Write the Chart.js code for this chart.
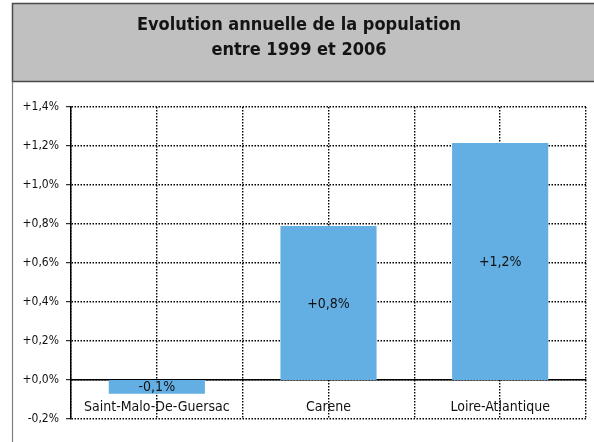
<!DOCTYPE html>
<html>
<head>
<meta charset="utf-8">
<script src="https://cdn.jsdelivr.net/npm/chart.js@4.4.1/dist/chart.umd.min.js"></script>
<style>
  html, body { margin: 0; padding: 0; background: #ffffff; }
  #wrap { width: 594px; height: 442px; position: relative; }
</style>
</head>
<body>
<div id="wrap"><canvas id="c" width="594" height="442"></canvas></div>
<script>
const categories = ['Saint-Malo-De-Guersac', 'Carene', 'Loire-Atlantique'];
const values = [-0.07, 0.79, 1.215];
const titleLines = ['Evolution annuelle de la population', 'entre 1999 et 2006'];
const yMin = -0.2;
const yMax = 1.4;
const yStep = 0.2;

const FONT = "'DejaVu Sans Condensed', 'Liberation Sans Narrow', sans-serif";
const DOT = [1.5, 1.5];
const BAR_COLOR = '#63AFE3';
const TITLE_GAP = 26;

function fmt(v) {
  const r = Math.round(v * 10) / 10;
  return (r >= 0 ? '+' : '-') + Math.abs(r).toFixed(1).replace('.', ',') + '%';
}

const framePlugin = {
  id: 'frame',
  beforeDraw(chart) {
    const ctx = chart.ctx;
    const tb = chart.titleBlock;
    ctx.save();
    ctx.fillStyle = '#ffffff';
    ctx.fillRect(0, 0, chart.width, chart.height);
    const left = tb.left + 0.5;
    const top = tb.top + 0.5;
    const bottom = tb.bottom - TITLE_GAP + 0.5;
    ctx.fillStyle = '#c0c0c0';
    ctx.fillRect(left, top, chart.width + 10 - left, bottom - top);
    ctx.strokeStyle = '#4a4a4a';
    ctx.lineWidth = 1.5;
    ctx.strokeRect(left, top, chart.width + 10 - left, bottom - top);
    ctx.strokeStyle = '#7f7f7f';
    ctx.lineWidth = 1.2;
    ctx.beginPath();
    ctx.moveTo(left, bottom);
    ctx.lineTo(left, chart.height);
    ctx.stroke();
    ctx.restore();
  }
};

const barLabelPlugin = {
  id: 'barLabels',
  afterDatasetsDraw(chart) {
    const ctx = chart.ctx;
    const meta = chart.getDatasetMeta(0);
    ctx.save();
    ctx.fillStyle = '#111111';
    ctx.font = '14px ' + FONT;
    ctx.textAlign = 'center';
    ctx.textBaseline = 'middle';
    meta.data.forEach((bar, i) => {
      const p = bar.getProps(['x', 'y', 'base'], true);
      ctx.fillText(fmt(values[i]), p.x, (p.y + p.base) / 2 + 1);
    });
    ctx.restore();
  }
};

new Chart(document.getElementById('c'), {
  type: 'bar',
  data: {
    labels: categories,
    datasets: [{
      data: values,
      backgroundColor: BAR_COLOR,
      borderWidth: 0,
      barPercentage: 0.56,
      categoryPercentage: 1.0
    }]
  },
  plugins: [framePlugin, barLabelPlugin],
  options: {
    responsive: false,
    animation: false,
    devicePixelRatio: 1,
    layout: { padding: { left: 12, right: 8, top: 3, bottom: 23 } },
    plugins: {
      legend: { display: false },
      tooltip: { enabled: false },
      title: {
        display: true,
        text: titleLines,
        color: '#141414',
        font: { family: FONT, size: 18, weight: 'bold', lineHeight: '25px' },
        padding: { top: 10, bottom: 44 }
      }
    },
    scales: {
      x: {
        type: 'category',
        position: { y: 0 },
        offset: true,
        grid: {
          offset: true,
          color: '#000000',
          lineWidth: 1.4,
          drawTicks: false
        },
        border: { display: true, color: '#000000', width: 1.5, dash: DOT },
        ticks: {
          color: '#111111',
          font: { family: FONT, size: 14 },
          padding: 19,
          maxRotation: 0,
          autoSkip: false
        }
      },
      x2: {
        type: 'category',
        labels: categories,
        position: { y: 0 },
        offset: true,
        grid: {
          offset: false,
          color: '#000000',
          lineWidth: 1.4,
          drawTicks: false
        },
        border: { display: false, dash: DOT },
        ticks: { display: false }
      },
      y: {
        min: yMin,
        max: yMax,
        afterFit(scale) { scale.width = 59; },
        grid: {
          color: '#000000',
          lineWidth: 1.4,
          drawTicks: true,
          tickLength: 5,
          tickBorderDash: [],
          tickColor: '#000000',
          tickWidth: 1
        },
        border: { display: true, color: '#000000', width: 1.5, dash: DOT },
        ticks: {
          stepSize: yStep,
          color: '#111111',
          font: { family: FONT, size: 12 },
          padding: 7,
          callback: (v) => fmt(v)
        }
      }
    }
  }
});
</script>
</body>
</html>
